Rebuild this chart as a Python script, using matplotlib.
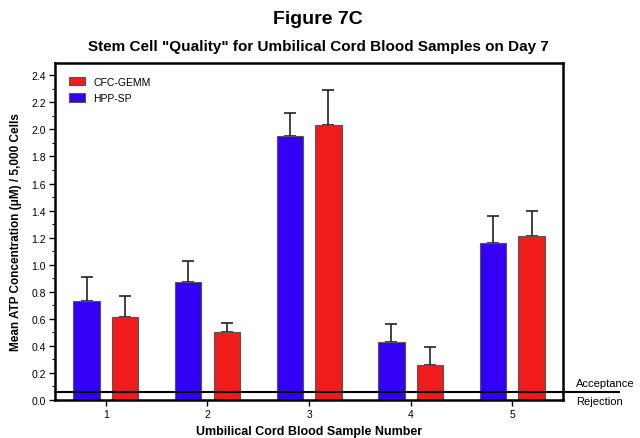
import matplotlib
matplotlib.use("Agg")
import matplotlib.pyplot as plt
import numpy as np
from matplotlib.ticker import MultipleLocator

plt.rcParams['font.family'] = ['Liberation Sans', 'DejaVu Sans']

samples = [1, 2, 3, 4, 5]
hpp_sp = [0.73, 0.87, 1.95, 0.43, 1.16]
hpp_sp_err = [0.18, 0.16, 0.17, 0.13, 0.20]
cfc_gemm = [0.61, 0.50, 2.03, 0.26, 1.21]
cfc_gemm_err = [0.16, 0.07, 0.26, 0.13, 0.19]
threshold = 0.06

blue = '#3300F5'
red = '#F01C1C'

fig = plt.figure(figsize=(6.4, 4.39), dpi=100)
ax = fig.add_axes([0.086, 0.0866, 0.794, 0.7674])

x = np.array(samples, dtype=float)
w = 0.26
off = 0.19
ekw = dict(elinewidth=1.2, capthick=1.2, ecolor='#222222')
ax.bar(x - off, hpp_sp, w, color=blue, edgecolor='#555555', linewidth=0.8,
       label='HPP-SP', zorder=2)
ax.errorbar(x - off, hpp_sp, yerr=[np.zeros(5), hpp_sp_err], fmt='none',
            capsize=4.5, zorder=1, **ekw)
ax.bar(x + off, cfc_gemm, w, color=red, edgecolor='#555555', linewidth=0.8,
       label='CFC-GEMM', zorder=2)
ax.errorbar(x + off, cfc_gemm, yerr=[np.zeros(5), cfc_gemm_err], fmt='none',
            capsize=4.5, zorder=1, **ekw)

ax.set_xlim(0.5, 5.5)
ax.set_ylim(0, 2.49)
ax.set_xticks(samples)
ax.set_xticklabels([str(s) for s in samples])
ax.yaxis.set_major_locator(MultipleLocator(0.2))
ax.yaxis.set_minor_locator(MultipleLocator(0.1))
ax.yaxis.set_major_formatter(matplotlib.ticker.FormatStrFormatter('%.1f'))
ax.tick_params(axis='both', labelsize=7.5, direction='out', length=4, width=1,
               pad=2.5)
ax.tick_params(axis='y', which='minor', length=2.5, width=0.8)
ax.tick_params(top=False, right=False)
for s in ax.spines.values():
    s.set_linewidth(1.8)

# threshold line extending beyond axes
ax.plot([0, 1.11], [threshold, threshold], color='black', lw=1.5,
        transform=ax.get_yaxis_transform(), clip_on=False, zorder=3)
ax.text(1.025, threshold + 0.03, 'Acceptance', transform=ax.get_yaxis_transform(),
        fontsize=8, va='bottom', ha='left')
ax.text(1.025, threshold - 0.03, 'Rejection', transform=ax.get_yaxis_transform(),
        fontsize=8, va='top', ha='left')

handles, labels = ax.get_legend_handles_labels()
order = [1, 0]
ax.legend([handles[i] for i in order], [labels[i] for i in order],
          loc='upper left', fontsize=7.5, frameon=False, handlelength=1.6,
          handleheight=0.9, borderaxespad=0.9, labelspacing=0.65,
          handletextpad=0.8)

ax.set_xlabel('Umbilical Cord Blood Sample Number', fontsize=9, fontweight='bold',
              labelpad=4)
ax.set_ylabel('Mean ATP Concentration (\u03bcM) / 5,000 Cells', fontsize=8.5,
              fontweight='bold', labelpad=7)

fig.text(0.497, 0.955, 'Figure 7C', ha='center', va='center', fontsize=14,
         fontweight='bold')
fig.text(0.497, 0.893, 'Stem Cell "Quality" for Umbilical Cord Blood Samples on Day 7',
         ha='center', va='center', fontsize=11, fontweight='bold')

fig.savefig('out.png', dpi=100)
